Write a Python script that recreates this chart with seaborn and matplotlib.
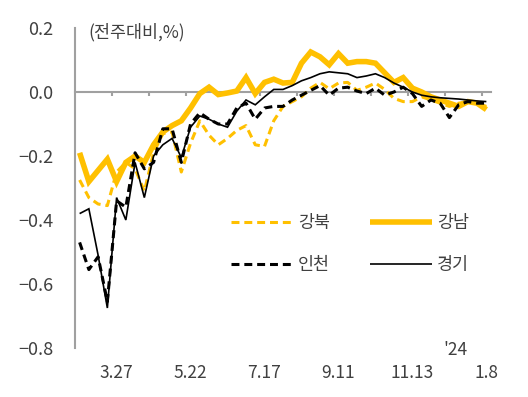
import matplotlib
matplotlib.use("Agg")
import matplotlib.pyplot as plt
import matplotlib.transforms as mtransforms
import seaborn as sns
import numpy as np
import pandas as pd

# weekly dates, 2023.2.27 ~ 2024.1.8 (Chuseok week skipped)
dates = ['2.27', '3.6', '3.13', '3.20', '3.27', '4.3', '4.10', '4.17', '4.24',
         '5.1', '5.8', '5.15', '5.22', '5.29', '6.5', '6.12', '6.19', '6.26',
         '7.3', '7.10', '7.17', '7.24', '7.31', '8.7', '8.14', '8.21', '8.28',
         '9.4', '9.11', '9.18', '9.25', '10.9', '10.16', '10.23', '10.30',
         '11.6', '11.13', '11.20', '11.27', '12.4', '12.11', '12.18', '12.25',
         '1.1', '1.8']
shown_labels = ['3.27', '5.22', '7.17', '9.11', '11.13', '1.8']

gangbuk = [-0.275, -0.33, -0.35, -0.355, -0.25, -0.22, -0.24, -0.31, -0.19,
           -0.13, -0.125, -0.25, -0.16, -0.09, -0.135, -0.165, -0.145, -0.12,
           -0.105, -0.165, -0.17, -0.09, -0.045, -0.03, -0.015, 0.012, 0.03,
           0.01, 0.028, 0.03, 0.005, 0.015, 0.028, 0.008, -0.02, -0.03, -0.03,
           -0.015, -0.025, -0.035, -0.045, -0.035, -0.03, -0.035, -0.045]
gangnam = [-0.19, -0.28, -0.245, -0.21, -0.28, -0.22, -0.20, -0.22, -0.165,
           -0.125, -0.105, -0.09, -0.05, -0.005, 0.015, -0.008, -0.003, 0.003,
           0.045, -0.005, 0.03, 0.04, 0.028, 0.03, 0.09, 0.125, 0.11, 0.085,
           0.12, 0.09, 0.095, 0.095, 0.09, 0.06, 0.03, 0.045, 0.012, 0.0,
           -0.015, -0.025, -0.035, -0.045, -0.03, -0.035, -0.055]
incheon = [-0.47, -0.555, -0.515, -0.655, -0.34, -0.36, -0.19, -0.24, -0.22,
           -0.115, -0.115, -0.22, -0.10, -0.065, -0.085, -0.10, -0.10, -0.05,
           -0.035, -0.085, -0.05, -0.045, -0.045, -0.025, -0.01, 0.005, 0.02,
           -0.01, 0.012, 0.015, 0.003, -0.005, 0.012, -0.01, 0.0, 0.015,
           -0.005, -0.045, -0.025, -0.035, -0.08, -0.04, -0.03, -0.035, -0.035]
gyeonggi = [-0.38, -0.365, -0.51, -0.675, -0.33, -0.40, -0.22, -0.33, -0.20,
            -0.165, -0.145, -0.205, -0.11, -0.075, -0.085, -0.10, -0.11, -0.06,
            -0.025, -0.04, -0.015, 0.008, 0.008, 0.02, 0.035, 0.045, 0.057,
            0.063, 0.06, 0.057, 0.045, 0.05, 0.057, 0.045, 0.028, 0.015, 0.0,
            -0.01, -0.015, -0.018, -0.02, -0.022, -0.025, -0.028, -0.03]

YELLOW = '#FFC000'
GRAY = '#A0A0A0'
TXT = '#404040'


def main():
    sns.set_style('white')
    plt.rcParams['font.family'] = ['Noto Sans CJK KR', 'DejaVu Sans']

    df = pd.DataFrame({'x': np.arange(len(dates)), 'date': dates,
                       '강북': gangbuk, '강남': gangnam,
                       '인천': incheon, '경기': gyeonggi})

    fig = plt.figure(figsize=(5.28, 3.97), dpi=100)
    ax = fig.add_axes([75 / 528, 1 - 348 / 397, 416 / 528, 320 / 397])

    sns.lineplot(data=df, x='x', y='강남', ax=ax, color=YELLOW, lw=4.0,
                 label='강남', zorder=3)
    sns.lineplot(data=df, x='x', y='강북', ax=ax, color=YELLOW, lw=2.2,
                 dashes=False, label='강북', zorder=4)
    sns.lineplot(data=df, x='x', y='인천', ax=ax, color='black', lw=2.2,
                 label='인천', zorder=5)
    sns.lineplot(data=df, x='x', y='경기', ax=ax, color='black', lw=1.2,
                 label='경기', zorder=6)
    lines = ax.get_lines()
    lines[1].set_dashes((2.6, 1.6))
    lines[2].set_dashes((2.6, 1.6))
    for ln in lines:
        ln.set_solid_capstyle('butt')
        ln.set_solid_joinstyle('miter')

    ax.set_xlim(-0.5, len(dates) - 0.5)
    ax.set_ylim(-0.8, 0.2)
    ax.set_yticks([0.2, 0.0, -0.2, -0.4, -0.6, -0.8])
    ax.set_xlabel('')
    ax.set_ylabel('')

    for s in ['top', 'right']:
        ax.spines[s].set_visible(False)
    ax.spines['left'].set_color(GRAY)
    ax.spines['left'].set_linewidth(1.5)
    ax.spines['bottom'].set_color(GRAY)
    ax.spines['bottom'].set_linewidth(1.5)
    ax.spines['bottom'].set_position(('data', 0))
    ax.spines['bottom'].set_zorder(1)

    ax.tick_params(axis='y', direction='out', length=4.5, width=1.5,
                   color=GRAY, labelsize=13, labelcolor=TXT, pad=11)
    bounds = np.arange(3.5, len(dates) - 0.5, 4)
    ax.set_xticks(bounds)
    ax.set_xticklabels([])
    ax.tick_params(axis='x', direction='out', length=3, width=1.5,
                   color=GRAY, bottom=True)

    trans = mtransforms.blended_transform_factory(ax.transData, ax.transAxes)
    for lab in shown_labels:
        ax.text(dates.index(lab), -0.078, lab, transform=trans, ha='center',
                va='center', fontsize=12.5, color=TXT)
    ax.text(dates.index('1.8') - 3.3, -0.005, "'24", transform=trans,
            ha='center', va='center', fontsize=12.5, color=TXT)
    ax.text(0.031, 0.9875, '(전주대비,%)', transform=ax.transAxes, ha='left',
            va='center', fontsize=12.5, color=TXT)

    handles, labels = ax.get_legend_handles_labels()
    order = [labels.index(k) for k in ['강북', '인천', '강남', '경기']]
    ax.legend([handles[i] for i in order], [labels[i] for i in order],
              ncol=2, frameon=False, loc='center',
              bbox_to_anchor=(350 / 528, 1 - 244 / 397),
              bbox_transform=fig.transFigure, fontsize=12.5,
              handlelength=3.6, handletextpad=0.25, columnspacing=2.3,
              labelspacing=1.35, labelcolor=TXT)

    fig.savefig('out.png', dpi=100)
    plt.close(fig)


if __name__ == '__main__':
    main()
